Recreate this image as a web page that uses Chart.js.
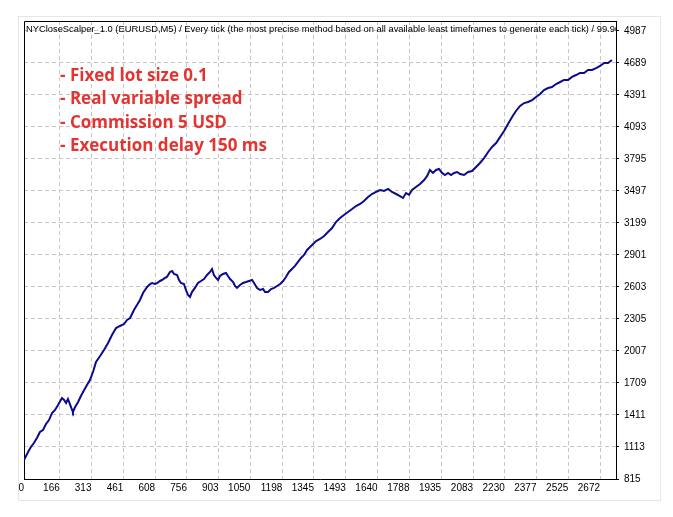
<!DOCTYPE html>
<html>
<head>
<meta charset="utf-8">
<script src="https://cdn.jsdelivr.net/npm/chart.js@4.4.1/dist/chart.umd.min.js"></script>
<style>
  html, body { margin: 0; padding: 0; background: #fff; }
  canvas { display: block; }
</style>
</head>
<body>
<canvas id="chartEquity" width="673" height="517"></canvas>
<script>
// numero de operacion (eje x) y balance (eje y)
const trades = [
  0, 19, 32, 46, 60, 74, 88, 102, 116, 130, 144, 158, 176, 186, 195, 204, 213, 223, 227, 237,
  251, 264, 274, 292, 306, 320, 334, 353, 371, 390, 408, 427, 445, 464, 478, 492, 510, 524, 538, 552,
  571, 585, 594, 608, 617, 631, 640, 654, 663, 677, 687, 696, 710, 719, 728, 742, 751, 761, 770, 779,
  793, 807, 821, 835, 849, 863, 872, 881, 891, 900, 909, 923, 937, 946, 956, 970, 979, 988, 1002, 1016,
  1030, 1044, 1058, 1067, 1081, 1095, 1109, 1118, 1132, 1146, 1160, 1174, 1188, 1202, 1215, 1229, 1243, 1257, 1271, 1285,
  1299, 1313, 1327, 1341, 1355, 1373, 1392, 1410, 1429, 1447, 1466, 1484, 1503, 1522, 1540, 1559, 1577, 1596, 1614, 1633,
  1652, 1670, 1689, 1707, 1726, 1744, 1758, 1772, 1786, 1800, 1818, 1837, 1856, 1870, 1883, 1897, 1911, 1925, 1939, 1953,
  1967, 1981, 1995, 2009, 2023, 2041, 2060, 2078, 2097, 2115, 2134, 2153, 2171, 2190, 2208, 2227, 2245, 2264, 2282, 2301,
  2320, 2338, 2357, 2375, 2394, 2412, 2431, 2449, 2468, 2487, 2505, 2524, 2542, 2561, 2579, 2598, 2616, 2635, 2654, 2672,
  2691, 2709, 2727
];
const balance = [
  992, 1066, 1113, 1150, 1197, 1253, 1271, 1327, 1364, 1430, 1458, 1504, 1569, 1551, 1523, 1560, 1513, 1458, 1439, 1485,
  1532, 1588, 1625, 1690, 1737, 1811, 1905, 1960, 2016, 2082, 2156, 2221, 2240, 2258, 2296, 2314, 2389, 2435, 2482, 2547,
  2603, 2631, 2640, 2631, 2640, 2659, 2668, 2687, 2696, 2743, 2752, 2724, 2715, 2668, 2640, 2631, 2575, 2528, 2510, 2556,
  2594, 2640, 2659, 2677, 2715, 2743, 2771, 2715, 2687, 2668, 2705, 2724, 2733, 2705, 2677, 2649, 2612, 2594, 2622, 2640,
  2649, 2659, 2668, 2640, 2594, 2575, 2584, 2556, 2556, 2584, 2594, 2612, 2631, 2659, 2696, 2743, 2771, 2799, 2836, 2873,
  2901, 2948, 2976, 3003, 3031, 3050, 3078, 3115, 3152, 3208, 3246, 3274, 3302, 3329, 3357, 3376, 3404, 3441, 3469, 3488,
  3506, 3497, 3516, 3488, 3469, 3450, 3432, 3478, 3460, 3506, 3534, 3562, 3599, 3637, 3693, 3665, 3693, 3702, 3665, 3646,
  3665, 3646, 3665, 3674, 3655, 3646, 3674, 3683, 3721, 3758, 3804, 3860, 3907, 3944, 3999, 4056, 4121, 4186, 4242, 4289,
  4316, 4326, 4344, 4372, 4400, 4437, 4456, 4465, 4493, 4512, 4531, 4531, 4559, 4577, 4596, 4596, 4624, 4624, 4642, 4661,
  4689, 4689, 4717
];

const xTicks = [0, 166, 313, 461, 608, 756, 903, 1050, 1198, 1345, 1493, 1640, 1788, 1935, 2083, 2230, 2377, 2525, 2672];
const yTicks = [815, 1113, 1411, 1709, 2007, 2305, 2603, 2901, 3199, 3497, 3795, 4093, 4391, 4689, 4987];

const titleText = "NYCloseScalper_1.0 (EURUSD,M5) / Every tick (the most precise method based on all available least timeframes to generate each tick) / 99.90%";
const titleFit = "NYCloseScalper_1.0 (EURUSD,M5) / Every tick (the most precise method based on all available least timeframes to generate each tick) / 99.9";
const notes = ["- Fixed lot size 0.1", "- Real variable spread", "- Commission 5 USD", "- Execution delay 150 ms"];

const axisFont = { family: "'Liberation Sans', Arial, sans-serif", size: 10 };

// marco exterior, borde del grafico y textos
const decorPlugin = {
  id: "decor",
  beforeDraw(chart) {
    const { ctx } = chart;
    ctx.save();
    ctx.fillStyle = "#ffffff";
    ctx.fillRect(0, 0, chart.width, chart.height);
    ctx.strokeStyle = "#e6e6e6";
    ctx.lineWidth = 1;
    ctx.strokeRect(18.5, 16.5, 642, 484);
    ctx.restore();
  },
  beforeDatasetsDraw(chart) {
    const { ctx, chartArea: a } = chart;
    ctx.save();
    ctx.strokeStyle = "#000";
    ctx.lineWidth = 1;
    ctx.beginPath();
    ctx.moveTo(Math.round(a.left) + 0.5, Math.round(a.bottom));
    ctx.lineTo(Math.round(a.left) + 0.5, Math.round(a.top) + 0.5);
    ctx.lineTo(Math.round(a.right), Math.round(a.top) + 0.5);
    ctx.stroke();

    ctx.beginPath();
    ctx.rect(a.left + 1, a.top + 1, a.right - a.left - 1, a.bottom - a.top - 1);
    ctx.clip();
    // ajustar el tamano para que el titulo termine en el borde como en MT4
    ctx.font = "10px 'Liberation Sans', Arial, sans-serif";
    const size = 10 * (a.right - a.left - 3) / ctx.measureText(titleFit).width;
    ctx.font = size.toFixed(2) + "px 'Liberation Sans', Arial, sans-serif";
    ctx.fillStyle = "#000";
    ctx.textBaseline = "middle";
    ctx.fillText(titleText, a.left + 2, a.top + 8);

    ctx.fillStyle = "#e23531";
    ctx.font = "bold 17px 'Open Sans', sans-serif";
    notes.forEach((t, i) => ctx.fillText(t, 60, 76 + i * 23.4));
    ctx.restore();
  }
};

const ctx = document.getElementById("chartEquity").getContext("2d");
new Chart(ctx, {
  type: "line",
  data: {
    datasets: [{
      data: trades.map((t, i) => ({ x: t, y: balance[i] })),
      borderColor: "#0b0b8c",
      borderWidth: 2,
      pointRadius: 0,
      tension: 0,
      fill: false
    }]
  },
  options: {
    responsive: false,
    animation: false,
    devicePixelRatio: 1,
    layout: { padding: { left: 24, top: 21, right: 0, bottom: 0 } },
    plugins: { legend: { display: false }, tooltip: { enabled: false } },
    scales: {
      x: {
        type: "linear",
        min: 0,
        max: 2746,
        afterBuildTicks: (s) => { s.ticks = xTicks.map(v => ({ value: v })); },
        afterFit: (s) => { s.height = 38; },
        ticks: {
          align: "end",
          padding: 3,
          color: "#000",
          font: axisFont,
          maxRotation: 0,
          autoSkip: false,
          callback: (v) => String(v)
        },
        grid: {
          color: (c) => c.tick && c.tick.value === 0 ? "rgba(0,0,0,0)" : "#c6c6c6",
          drawTicks: false
        },
        border: { display: true, color: "#000", width: 1, dash: [4, 3] }
      },
      y: {
        position: "right",
        min: 815,
        max: 5080,
        afterBuildTicks: (s) => { s.ticks = yTicks.map(v => ({ value: v })); },
        afterFit: (s) => { s.width = 57; },
        ticks: {
          padding: 5,
          color: "#000",
          font: axisFont,
          crossAlign: "near",
          autoSkip: false,
          callback: (v) => String(v)
        },
        grid: {
          color: "#c6c6c6",
          drawTicks: true,
          tickLength: 3,
          tickColor: "#000"
        },
        border: { display: true, color: "#000", width: 1, dash: [4, 3] }
      }
    }
  },
  plugins: [decorPlugin]
});
</script>
</body>
</html>
